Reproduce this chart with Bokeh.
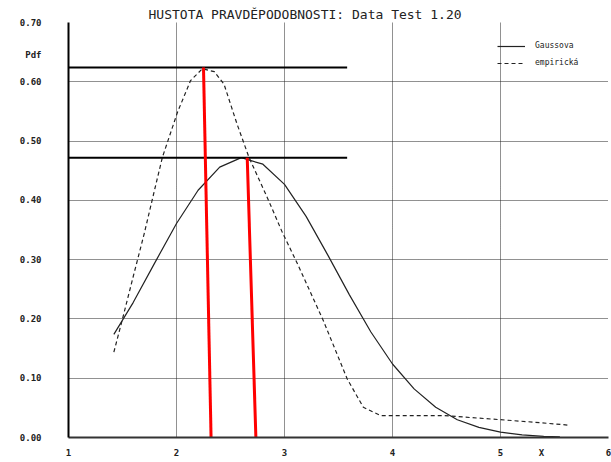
from bokeh.plotting import figure
from bokeh.models import (Range1d, FixedTicker, Legend, LegendItem,
                          CustomJSTickFormatter)
from bokeh.embed import file_html
from bokeh.resources import INLINE

# ---------------- data ----------------
gauss_x = [1.42, 1.6, 1.8, 2.0, 2.2, 2.4, 2.6, 2.8, 3.0, 3.2, 3.4, 3.6, 3.8,
           4.0, 4.2, 4.4, 4.6, 4.8, 5.0, 5.2, 5.4, 5.55]
gauss_y = [0.174, 0.228, 0.295, 0.361, 0.417, 0.456, 0.472, 0.461, 0.427,
           0.373, 0.308, 0.241, 0.178, 0.124, 0.082, 0.051, 0.030, 0.017,
           0.009, 0.0045, 0.002, 0.001]

emp_x = [1.42, 1.50, 1.60, 1.70, 1.80, 1.87, 2.01, 2.13, 2.24, 2.35, 2.44,
         2.56, 2.67, 2.84, 2.98, 3.12, 3.36, 3.58, 3.73, 3.89, 4.47, 5.00,
         5.30, 5.62]
emp_y = [0.144, 0.200, 0.272, 0.343, 0.420, 0.473, 0.549, 0.602, 0.622,
         0.617, 0.596, 0.529, 0.473, 0.405, 0.346, 0.293, 0.197, 0.099,
         0.051, 0.037, 0.037, 0.030, 0.026, 0.021]

# horizontal peak markers (y level, x start, x end)
hline_y = [0.624, 0.472]
hline_x0 = [1.0, 1.0]
hline_x1 = [3.58, 3.58]

# red lines (top x, top y, bottom x)
red_top_x = [2.25, 2.655]
red_top_y = [0.624, 0.472]
red_bot_x = [2.32, 2.735]
red_bot_y = [0.0, 0.0]

x_ticks = [1, 2, 3, 4, 5, 6]
y_ticks = [0.0, 0.1, 0.2, 0.3, 0.4, 0.5, 0.6, 0.7]

# axis-name positions (written as extra tick labels)
x_name, x_name_at = "X", 5.38
y_name, y_name_at = "Pdf", 0.645

title_text = "HUSTOTA PRAVDĚPODOBNOSTI: Data Test 1.20"
legend_labels = ["Gaussova", "empirická"]

# ---------------- figure ----------------
W, H = 611, 462
mono = "DejaVu Sans Mono"

p = figure(width=W, height=H, output_backend="svg", toolbar_location=None,
           x_range=Range1d(1, 6), y_range=Range1d(0, 0.7),
           min_border_left=68, min_border_right=3, min_border_top=22,
           min_border_bottom=25)
p.outline_line_color = None
p.background_fill_color = "white"
p.border_fill_color = "white"

p.title.text = title_text
p.title.align = "left"
p.title.offset = 80
p.title.standoff = 1
p.title.text_font = mono
p.title.text_font_size = "13px"
p.title.text_font_style = "normal"
p.title.text_color = "#222222"

# axes (grids keep their own tickers)
p.xaxis.ticker = FixedTicker(ticks=sorted(x_ticks + [x_name_at]))
p.yaxis.ticker = FixedTicker(ticks=sorted(y_ticks + [y_name_at]))
p.xgrid.ticker = FixedTicker(ticks=x_ticks)
p.ygrid.ticker = FixedTicker(ticks=y_ticks)
p.xaxis.major_label_overrides = {x_name_at: x_name}
p.yaxis.formatter = CustomJSTickFormatter(
    code="if (Math.abs(tick - %r) < 1e-9) { return %r; } return tick.toFixed(2);"
    % (y_name_at, y_name))
for ax in (p.xaxis[0], p.yaxis[0]):
    ax.major_tick_line_color = None
    ax.minor_tick_line_color = None
    ax.major_label_text_font = mono
    ax.major_label_text_font_size = "9px"
    ax.major_label_text_font_style = "bold"
    ax.major_label_text_color = "#222222"
p.yaxis.axis_line_color = "black"
p.yaxis.axis_line_width = 2
p.xaxis.axis_line_color = "#333333"
p.xaxis.axis_line_width = 2
p.yaxis.major_label_standoff = 21
p.xaxis.major_label_standoff = 4

# grid
for g in (p.xgrid[0], p.ygrid[0]):
    g.grid_line_color = "#222222"
    g.grid_line_dash = "1 1"
    g.grid_line_width = 1
    g.grid_line_alpha = 1.0

# curves
r_g = p.line(gauss_x, gauss_y, line_color="#222222", line_width=1.2)
r_e = p.line(emp_x, emp_y, line_color="#222222", line_width=1.2,
             line_dash="4 3")

# peak lines
p.segment(x0=hline_x0, y0=hline_y, x1=hline_x1, y1=hline_y,
          line_color="black", line_width=2)
p.segment(x0=red_top_x, y0=red_top_y, x1=red_bot_x, y1=red_bot_y,
          line_color="#ff0000", line_width=3)

# legend
leg = Legend(items=[LegendItem(label=legend_labels[0], renderers=[r_g]),
                    LegendItem(label=legend_labels[1], renderers=[r_e])],
             location=(429, 366), background_fill_alpha=0,
             border_line_color=None, padding=0, spacing=0, margin=0,
             glyph_width=28, glyph_height=10, label_height=17,
             label_standoff=10, label_text_font=mono,
             label_text_font_size="8px", label_text_color="#222222")
p.add_layout(leg)

open("out.html", "w").write(file_html(p, INLINE))
